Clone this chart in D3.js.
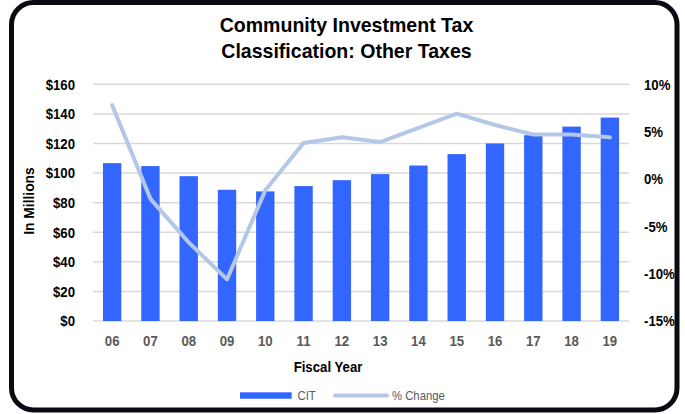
<!DOCTYPE html>
<html>
<head>
<meta charset="utf-8">
<script src="https://cdn.jsdelivr.net/npm/d3@7"></script>
<style>
  html, body { margin: 0; padding: 0; background: #fff; }
  svg { display: block; }
  text { font-family: "Liberation Sans Narrow", "Arial Narrow", "Liberation Sans", Arial, sans-serif; }
</style>
</head>
<body>
<svg id="chart" width="685" height="414"></svg>
<script>
const years = ["06","07","08","09","10","11","12","13","14","15","16","17","18","19"];
const citValues = [106.7, 104.7, 97.9, 88.7, 87.6, 91.2, 95.2, 99.3, 105.1, 112.8, 120.0, 125.6, 131.4, 137.5];
const pctChange = [7.8, -2.1, -6.7, -10.6, -1.2, 3.8, 4.4, 3.9, 5.4, 6.9, 5.7, 4.7, 4.7, 4.4];
const leftTicks = [0, 20, 40, 60, 80, 100, 120, 140, 160];
const rightTicks = [-15, -10, -5, 0, 5, 10];
const titleLines = ["Community Investment Tax", "Classification: Other Taxes"];

const svg = d3.select("#chart");
const plot = { left: 93, right: 629, top: 84.3, bottom: 321 };

function squeeze(sel, f) {
  sel.each(function () {
    const len = this.getComputedTextLength();
    d3.select(this).attr("textLength", len * f).attr("lengthAdjust", "spacingAndGlyphs");
  });
}

// border
svg.append("rect")
  .attr("x", 11.5).attr("y", 2.5)
  .attr("width", 665.5).attr("height", 407.5)
  .attr("rx", 22).attr("ry", 22)
  .attr("fill", "#fff").attr("stroke", "#0a0a12").attr("stroke-width", 5);

// title
const title = svg.append("g").selectAll("text").data(titleLines).join("text")
  .attr("x", 346.5).attr("y", (d, i) => 32 + i * 26)
  .attr("text-anchor", "middle")
  .attr("font-size", 21).attr("font-weight", "bold").attr("fill", "#000")
  .text(d => d);
squeeze(title, 0.93);

const x = d3.scaleBand().domain(years).range([plot.left, plot.right]).paddingInner(0.52).paddingOuter(0.26);
const xc = d3.scalePoint().domain(years).range([plot.left, plot.right]).padding(0.5);
const yL = d3.scaleLinear().domain([0, 160]).range([plot.bottom, plot.top]);
const yR = d3.scaleLinear().domain([-15, 10]).range([plot.bottom, plot.top]);

// gridlines
svg.append("g").selectAll("line").data(leftTicks).join("line")
  .attr("x1", plot.left).attr("x2", plot.right)
  .attr("y1", d => yL(d)).attr("y2", d => yL(d))
  .attr("stroke", "#d9d9d9").attr("stroke-width", 1.5);

// left axis
const leftAxis = svg.append("g").attr("transform", `translate(${plot.left - 18},0)`)
  .call(d3.axisLeft(yL).tickValues(leftTicks).tickSize(0).tickPadding(0).tickFormat(d => "$" + d));
leftAxis.select(".domain").remove();
leftAxis.selectAll("text").attr("font-size", 15).attr("font-weight", "bold").attr("fill", "#000")
  .attr("font-family", null);
squeeze(leftAxis.selectAll("text"), 0.88);

// right axis
const rightAxis = svg.append("g").attr("transform", `translate(644,0)`)
  .call(d3.axisRight(yR).tickValues(rightTicks).tickSize(0).tickPadding(0).tickFormat(d => d + "%"));
rightAxis.select(".domain").remove();
rightAxis.selectAll("text").attr("font-size", 15).attr("font-weight", "bold").attr("fill", "#000")
  .attr("font-family", null);
squeeze(rightAxis.selectAll("text"), 0.88);

// bottom axis
const bottomAxis = svg.append("g").attr("transform", `translate(0,${plot.bottom})`)
  .call(d3.axisBottom(x).tickSize(0).tickPadding(14));
bottomAxis.select(".domain").remove();
bottomAxis.selectAll("text").attr("font-size", 15).attr("font-weight", "bold").attr("fill", "#595959")
  .attr("font-family", null);
squeeze(bottomAxis.selectAll("text"), 0.88);

// bars
svg.append("g").selectAll("rect").data(years).join("rect")
  .attr("x", d => x(d)).attr("width", x.bandwidth())
  .attr("y", (d, i) => yL(citValues[i]))
  .attr("height", (d, i) => yL(0) - yL(citValues[i]))
  .attr("fill", "#3366ff");

// line
const line = d3.line().x((d, i) => xc(years[i])).y(d => yR(d));
svg.append("path").datum(pctChange)
  .attr("d", line).attr("fill", "none")
  .attr("stroke", "#b4c7e7").attr("stroke-width", 4)
  .attr("stroke-linejoin", "round").attr("stroke-linecap", "round");

// axis titles
const xt = svg.append("text").attr("x", 328).attr("y", 372)
  .attr("text-anchor", "middle").attr("font-size", 15).attr("font-weight", "bold").attr("fill", "#000")
  .text("Fiscal Year");
squeeze(xt, 0.88);
const yt = svg.append("text").attr("transform", "translate(34,201) rotate(-90)")
  .attr("text-anchor", "middle").attr("font-size", 15).attr("font-weight", "bold").attr("fill", "#000")
  .text("In Millions");
squeeze(yt, 0.92);

// legend
const legend = svg.append("g");
legend.append("rect").attr("x", 240).attr("y", 392.3).attr("width", 51.7).attr("height", 6.4).attr("fill", "#3366ff");
const l1 = legend.append("text").attr("x", 297.5).attr("y", 400).attr("font-size", 13).attr("fill", "#595959").text("CIT");
legend.append("line").attr("x1", 335).attr("x2", 387).attr("y1", 395.5).attr("y2", 395.5)
  .attr("stroke", "#b4c7e7").attr("stroke-width", 4).attr("stroke-linecap", "round");
const l2 = legend.append("text").attr("x", 392).attr("y", 400).attr("font-size", 13).attr("fill", "#595959").text("% Change");
squeeze(l1, 0.87);
squeeze(l2, 0.87);
</script>
</body>
</html>
